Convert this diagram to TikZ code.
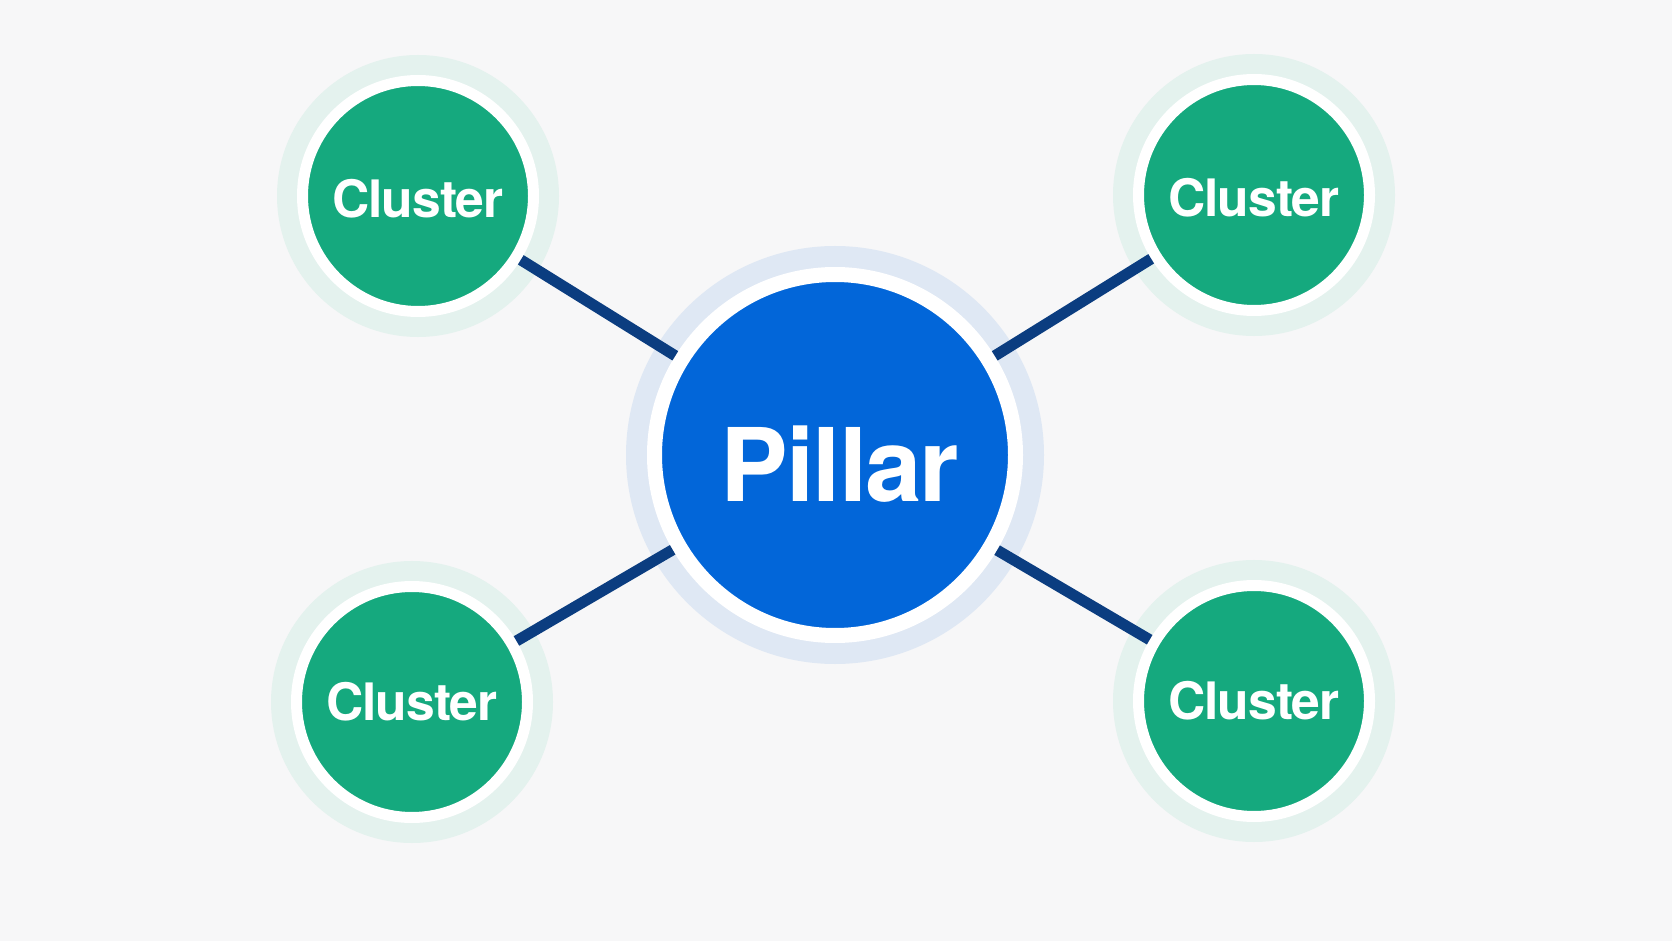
\documentclass[tikz,border=0pt]{standalone}
\usepackage{fontspec}
\setmainfont{TeX Gyre Heros}[LetterSpace=-2]
\definecolor{bgcol}{RGB}{247,247,248}
\definecolor{pillarblue}{RGB}{2,102,217}
\definecolor{pillarhalo}{RGB}{223,232,244}
\definecolor{clustergreen}{RGB}{21,169,126}
\definecolor{clusterhalo}{RGB}{228,242,238}
\definecolor{linknavy}{RGB}{11,61,128}
\tikzset{
  pillarnode/.style={circle, fill=pillarblue, draw=white, line width=7.5pt,
    minimum size=180.5pt, inner sep=0pt, outer sep=3.75pt,
    preaction={draw=pillarhalo, line width=28.5pt},
    text=white, font=\fontsize{50.8}{60}\selectfont\bfseries},
  clusternode/.style={circle, fill=clustergreen, draw=white, line width=5.5pt,
    minimum size=115.5pt, inner sep=0pt, outer sep=2.75pt,
    preaction={draw=clusterhalo, line width=25.5pt},
    text=white, font=\fontsize{25.8}{30}\selectfont\bfseries},
  link/.style={draw=linknavy, line width=5.5pt}
}
\begin{document}
\begin{tikzpicture}[x=0.5pt, y=-0.5pt]
\fill[bgcol] (0,0) rectangle (1672,941);
\node[pillarnode] (pillar) at (835,455) {\raisebox{-4.25pt}[\height][0pt]{\hspace{5pt}Pillar}};
\node[clusternode] (tl) at (418,196) {\raisebox{-1pt}[\height][0pt]{Cluster}};
\node[clusternode] (tr) at (1254,195) {\raisebox{-1pt}[\height][0pt]{Cluster}};
\node[clusternode] (bl) at (412,702) {Cluster};
\node[clusternode] (br) at (1254,701) {Cluster};
\foreach \c in {tl,tr,bl,br}
  \draw[link] (\c) -- (pillar);
\end{tikzpicture}
\end{document}
